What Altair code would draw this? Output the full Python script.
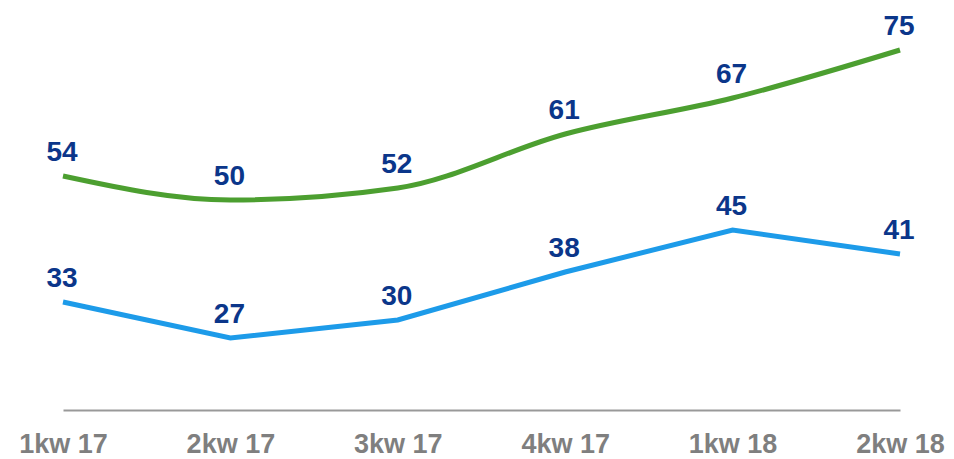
import altair as alt
import pandas as pd

quarters = ["1kw 17", "2kw 17", "3kw 17", "4kw 17", "1kw 18", "2kw 18"]
green_values = [54, 50, 52, 61, 67, 75]
blue_values = [33, 27, 30, 38, 45, 41]

df = pd.DataFrame({
    "q": quarters * 2,
    "v": green_values + blue_values,
    "s": ["green"] * len(quarters) + ["blue"] * len(quarters),
    "order": list(range(len(quarters))) * 2,
})

x = alt.X("q:O", sort=quarters, scale=alt.Scale(type="point", padding=0),
          axis=alt.Axis(title=None, labelAngle=0, ticks=False, domainColor="#999999",
                        domainWidth=2, labelColor="#7f7f7f", labelFont="Liberation Sans",
                        labelFontWeight="bold", labelFontSize=27, labelPadding=21,
                        labelBaseline="top"))
y = alt.Y("v:Q", scale=alt.Scale(domain=[15, 80], nice=False, zero=False), axis=None)

base = alt.Chart(df)

green = base.transform_filter(alt.datum.s == "green").mark_line(
    color="#4C9F30", strokeWidth=5, interpolate="monotone"
).encode(x=x, y=y, order="order:Q")

blue = base.transform_filter(alt.datum.s == "blue").mark_line(
    color="#1D9BE9", strokeWidth=5
).encode(x=x, y=y, order="order:Q")

labels = base.mark_text(
    font="Liberation Sans", fontWeight="bold", fontSize=28, color="#0B368A",
    baseline="alphabetic", dy=-15, dx=-1
).encode(x=x, y=y, text="v:Q")

chart = (green + blue + labels).properties(
    width=837, height=390,
    autosize=alt.AutoSizeParams(type="none"),
    padding={"left": 55, "top": 12, "right": 46, "bottom": 50},
).configure_view(stroke=None)

chart.save("out.html", embed_options={"renderer": "svg", "actions": False})
